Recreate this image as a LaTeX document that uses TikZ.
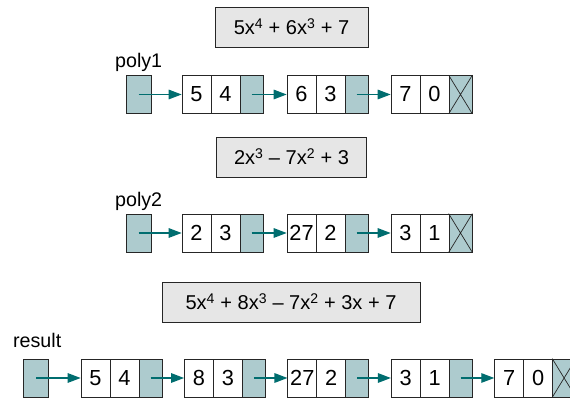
\documentclass[tikz,border=0pt]{standalone}
\usepackage{fontspec}
\setmainfont{Liberation Sans}
\definecolor{lineclr}{RGB}{38,38,38}
\definecolor{ptrclr}{RGB}{173,203,206}
\definecolor{arrowclr}{RGB}{0,109,111}
\definecolor{boxclr}{RGB}{230,230,230}
\usetikzlibrary{arrows.meta}
\tikzset{
  cell/.style={draw=lineclr, line width=1pt, minimum width=1.45cm, minimum height=1.9cm, inner sep=0pt, font=\fontsize{31}{34}\selectfont},
  ptr/.style={cell, fill=ptrclr, minimum width=1.15cm},
  headbox/.style={cell, fill=ptrclr, minimum width=1.25cm},
  formula/.style={draw=lineclr, line width=1.2pt, fill=boxclr, minimum height=2cm, inner sep=0pt, font=\fontsize{28.5}{32}\selectfont},
  listname/.style={anchor=base west, inner sep=0pt, font=\fontsize{28}{32}\selectfont},
  link/.style={draw=arrowclr, line width=1.6pt, -{Triangle[length=0.65cm,width=0.48cm]}}
}

\begin{document}
\begin{tikzpicture}
  \useasboundingbox (0,0) rectangle (28.5,19.9);

  % poly1
  \node[formula, minimum width=7.65cm] (f1) at (14.575,18.55) {5x\textsuperscript{4} + 6x\textsuperscript{3} + 7};
  \node[listname] (l1) at (5.75,16.5) {poly1};
  \node[headbox] (h1) at (6.925,15.175) {};
  \node[cell] (a1c) at (9.825,15.175) {5};
  \node[cell] (a1e) at (11.275,15.175) {4};
  \node[ptr] (a1n) at (12.575,15.175) {};
  \node[cell] (a2c) at (15.075,15.175) {6};
  \node[cell] (a2e) at (16.525,15.175) {3};
  \node[ptr] (a2n) at (17.825,15.175) {};
  \node[cell] (a3c) at (20.275,15.175) {7};
  \node[cell] (a3e) at (21.725,15.175) {0};
  \node[ptr] (a3n) at (23.025,15.175) {};
  \draw[lineclr, line width=1pt] (a3n.north west) -- (a3n.south east) (a3n.south west) -- (a3n.north east);
  \draw[link] (h1.center) -- (a1c.west);
  \draw[link] (a1n.center) -- (a2c.west);
  \draw[link] (a2n.center) -- (a3c.west);

  % poly2
  \node[formula, minimum width=7.5cm] (f2) at (14.575,12.05) {2x\textsuperscript{3} -- 7x\textsuperscript{2} + 3};
  \node[listname] (l2) at (5.75,9.55) {poly2};
  \node[headbox] (h2) at (6.925,8.25) {};
  \node[cell] (b1c) at (9.825,8.25) {2};
  \node[cell] (b1e) at (11.275,8.25) {3};
  \node[ptr] (b1n) at (12.575,8.25) {};
  \node[cell] (b2c) at (15.075,8.25) {27};
  \node[cell] (b2e) at (16.525,8.25) {2};
  \node[ptr] (b2n) at (17.825,8.25) {};
  \node[cell] (b3c) at (20.275,8.25) {3};
  \node[cell] (b3e) at (21.725,8.25) {1};
  \node[ptr] (b3n) at (23.025,8.25) {};
  \draw[lineclr, line width=1pt] (b3n.north west) -- (b3n.south east) (b3n.south west) -- (b3n.north east);
  \draw[link] (h2.center) -- (b1c.west);
  \draw[link] (b1n.center) -- (b2c.west);
  \draw[link] (b2n.center) -- (b3c.west);

  % result
  \node[formula, minimum width=12.9cm] (f3) at (14.55,4.8) {5x\textsuperscript{4} + 8x\textsuperscript{3} -- 7x\textsuperscript{2} + 3x + 7};
  \node[listname] (l3) at (0.65,2.5) {result};
  \node[headbox] (h3) at (1.8,1.0) {};
  \node[cell] (r1c) at (4.775,1.0) {5};
  \node[cell] (r1e) at (6.225,1.0) {4};
  \node[ptr] (r1n) at (7.525,1.0) {};
  \node[cell] (r2c) at (9.945,1.0) {8};
  \node[cell] (r2e) at (11.395,1.0) {3};
  \node[ptr] (r2n) at (12.695,1.0) {};
  \node[cell] (r3c) at (15.115,1.0) {27};
  \node[cell] (r3e) at (16.565,1.0) {2};
  \node[ptr] (r3n) at (17.865,1.0) {};
  \node[cell] (r4c) at (20.285,1.0) {3};
  \node[cell] (r4e) at (21.735,1.0) {1};
  \node[ptr] (r4n) at (23.035,1.0) {};
  \node[cell] (r5c) at (25.455,1.0) {7};
  \node[cell] (r5e) at (26.905,1.0) {0};
  \node[ptr] (r5n) at (28.205,1.0) {};
  \draw[lineclr, line width=1pt] (r5n.north west) -- (r5n.south east) (r5n.south west) -- (r5n.north east);
  \draw[link] (h3.center) -- (r1c.west);
  \draw[link] (r1n.center) -- (r2c.west);
  \draw[link] (r2n.center) -- (r3c.west);
  \draw[link] (r3n.center) -- (r4c.west);
  \draw[link] (r4n.center) -- (r5c.west);
\end{tikzpicture}
\end{document}
